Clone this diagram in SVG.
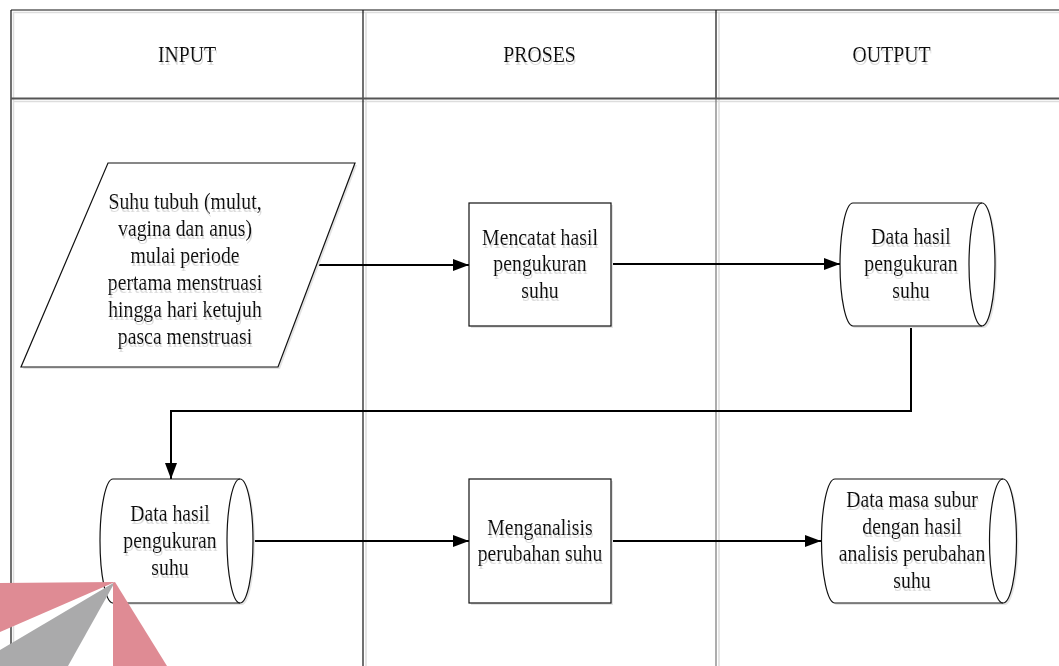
<svg xmlns="http://www.w3.org/2000/svg" width="1059" height="666" viewBox="0 0 1059 666" font-family="'Liberation Serif', 'Times New Roman', serif">
  <style>
    .tx { font-family: 'Liberation Serif', 'Times New Roman', serif; font-size: 23px; text-anchor: middle; fill: #111; filter: url(#textShadow); }
    .shape { fill: #fff; stroke: #111; stroke-width: 1.2; }
    .rim { fill: none; stroke: #111; stroke-width: 1.2; }
    .shade { fill: #e4e4e4; stroke: none; }
    .wire { fill: none; stroke: #000; stroke-width: 2; }
    .lane { fill: none; stroke: #111; stroke-width: 1.2; }
    .lane-soft { fill: none; stroke: #ddd; stroke-width: 1.5; }
  </style>
  <defs>
    <marker id="arrow" markerUnits="userSpaceOnUse" markerWidth="16" markerHeight="12" refX="16" refY="6" orient="auto">
      <path d="M0,0 L16,6 L0,12 Z" fill="#000"/>
    </marker>
    <!-- soft grey copy of the glyphs, offset down-right -->
    <filter id="textShadow" x="-10%" y="-10%" width="120%" height="130%">
      <feFlood flood-color="#dcdcdc" result="tint"/>
      <feComposite in="tint" in2="SourceAlpha" operator="in" result="tinted"/>
      <feOffset in="tinted" dx="1" dy="3" result="drop"/>
      <feMerge>
        <feMergeNode in="drop"/>
        <feMergeNode in="SourceGraphic"/>
      </feMerge>
    </filter>
  </defs>

  <rect width="1059" height="666" fill="#fff"/>

  <!-- swimlane frame -->
  <g id="lanes">
    <line class="lane-soft" x1="13" y1="12.5" x2="1059" y2="12.5"/>
    <line class="lane-soft" x1="13.5" y1="12" x2="13.5" y2="666"/>
    <line class="lane-soft" x1="366" y1="12" x2="366" y2="666"/>
    <line class="lane-soft" x1="719" y1="12" x2="719" y2="666"/>
    <line class="lane-soft" x1="13" y1="101.5" x2="1059" y2="101.5"/>
    <line class="lane" x1="11" y1="10" x2="1059" y2="10" stroke-width="1.5"/>
    <line class="lane" x1="11" y1="10" x2="11" y2="666"/>
    <line class="lane" x1="363" y1="10" x2="363" y2="666"/>
    <line class="lane" x1="716" y1="10" x2="716" y2="98"/>
    <line x1="716" y1="98" x2="716" y2="666" stroke="#777" stroke-width="1.2"/>
    <line x1="11" y1="98.5" x2="1059" y2="98.5" stroke="#555" stroke-width="2"/>
    <g class="tx">
      <text transform="translate(187 62) scale(0.86 1)">INPUT</text>
      <text transform="translate(539.5 62) scale(0.86 1)">PROSES</text>
      <text transform="translate(891.5 62) scale(0.86 1)">OUTPUT</text>
    </g>
  </g>

  <!-- connectors -->
  <g id="connectors">
    <path class="wire" d="M312,265 H469" marker-end="url(#arrow)"/>
    <path class="wire" d="M611,264 H840" marker-end="url(#arrow)"/>
    <path class="wire" d="M911,326 V411 H171 V479" marker-end="url(#arrow)"/>
    <path class="wire" d="M253,541 H469" marker-end="url(#arrow)"/>
    <path class="wire" d="M611,541 H821" marker-end="url(#arrow)"/>
  </g>

  <!-- input data: body temperature readings -->
  <g id="node-suhu">
    <polygon class="shade" points="110,165 357,165 280,369 23,369"/>
    <polygon class="shape" points="108,163 355,163 278,367 21,367"/>
    <g class="tx" transform="translate(185 0) scale(0.86 1)">
      <text x="0" y="209">Suhu tubuh (mulut,</text>
      <text x="0" y="236">vagina dan anus)</text>
      <text x="0" y="263">mulai periode</text>
      <text x="0" y="290">pertama menstruasi</text>
      <text x="0" y="317.5">hingga hari ketujuh</text>
      <text x="0" y="344.5">pasca menstruasi</text>
    </g>
  </g>

  <!-- process: record measurements -->
  <g id="node-catat">
    <rect class="shade" x="471" y="205" width="142" height="123"/>
    <rect class="shape" x="469" y="203" width="142" height="123"/>
    <g class="tx" transform="translate(540 0) scale(0.86 1)">
      <text x="0" y="245">Mencatat hasil</text>
      <text x="0" y="271.5">pengukuran</text>
      <text x="0" y="298">suhu</text>
    </g>
  </g>

  <!-- stored data: measurement results -->
  <g id="node-data1">
    <path class="shade" d="M855,205 L984,205 A13,61.5 0 0 1 984,328 L855,328 A13,61.5 0 0 1 855,205 Z"/>
    <path class="shape" d="M853,203 L982,203 A13,61.5 0 0 1 982,326 L853,326 A13,61.5 0 0 1 853,203 Z"/>
    <path class="rim" d="M982,203 A13,61.5 0 0 0 982,326"/>
    <g class="tx" transform="translate(911 0) scale(0.86 1)">
      <text x="0" y="244">Data hasil</text>
      <text x="0" y="271.5">pengukuran</text>
      <text x="0" y="298">suhu</text>
    </g>
  </g>

  <!-- stored data carried back to the input lane -->
  <g id="node-data2">
    <path class="shade" d="M115,481 L242,481 A13,62 0 0 1 242,605 L115,605 A13,62 0 0 1 115,481 Z"/>
    <path class="shape" d="M113,479 L240,479 A13,62 0 0 1 240,603 L113,603 A13,62 0 0 1 113,479 Z"/>
    <path class="rim" d="M240,479 A13,62 0 0 0 240,603"/>
    <g class="tx" transform="translate(170 0) scale(0.86 1)">
      <text x="0" y="521">Data hasil</text>
      <text x="0" y="548">pengukuran</text>
      <text x="0" y="575">suhu</text>
    </g>
  </g>

  <!-- process: analyse the temperature change -->
  <g id="node-analisis">
    <rect class="shade" x="471" y="481" width="142" height="124"/>
    <rect class="shape" x="469" y="479" width="142" height="124"/>
    <g class="tx" transform="translate(540 0) scale(0.86 1)">
      <text x="0" y="535">Menganalisis</text>
      <text x="0" y="561.5">perubahan suhu</text>
    </g>
  </g>

  <!-- stored data: fertile period result -->
  <g id="node-subur">
    <path class="shade" d="M837,481 L1005,481 A13.5,62 0 0 1 1005,605 L837,605 A13.5,62 0 0 1 837,481 Z"/>
    <path class="shape" d="M835,479 L1003,479 A13.5,62 0 0 1 1003,603 L835,603 A13.5,62 0 0 1 835,479 Z"/>
    <path class="rim" d="M1003,479 A13.5,62 0 0 0 1003,603"/>
    <g class="tx" transform="translate(912 0) scale(0.86 1)">
      <text x="0" y="507.5">Data masa subur</text>
      <text x="0" y="534.5">dengan hasil</text>
      <text x="0" y="561.5">analisis perubahan</text>
      <text x="0" y="588">suhu</text>
    </g>
  </g>

  <!-- corner emblem -->
  <g id="emblem">
    <polygon points="0,583 115,582 0,632" fill="#df8b94"/>
    <polygon points="115,582 0,650 0,666 68,666" fill="#aaaaab"/>
    <polygon points="113,583 115,582 167,666 113,666" fill="#df8b94"/>
  </g>
</svg>
